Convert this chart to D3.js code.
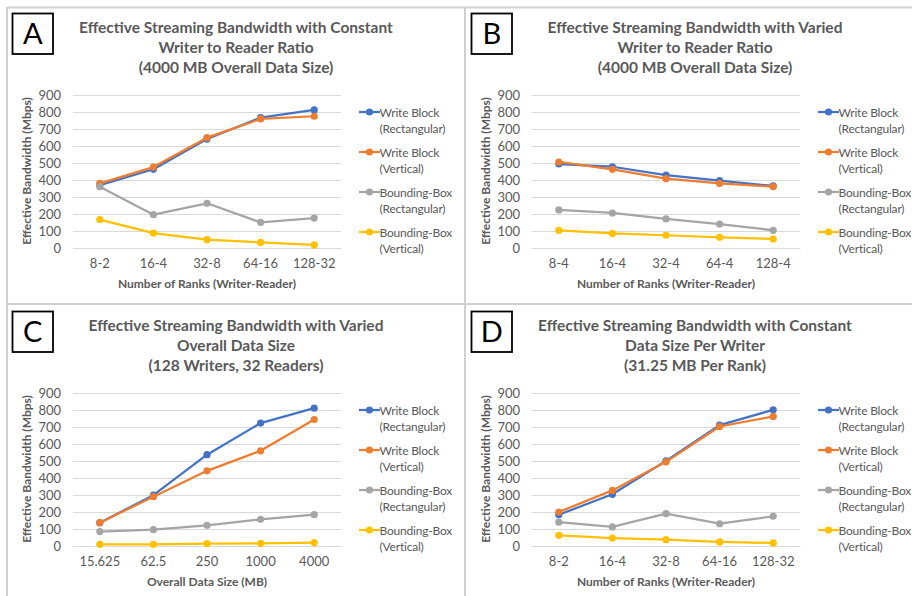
<!DOCTYPE html>
<html>
<head>
<meta charset="utf-8">
<script src="https://cdn.jsdelivr.net/npm/d3@7"></script>
<style>
  html, body { margin: 0; padding: 0; background: #fff; }
  svg { display: block; }
  text { font-family: Lato, "Open Sans", sans-serif; }
</style>
</head>
<body>
<svg id="chart" width="912" height="596"></svg>
<script>
// ---------------- DATA ----------------
const seriesNames = [
  ["Write Block", "(Rectangular)"],
  ["Write Block", "(Vertical)"],
  ["Bounding-Box", "(Rectangular)"],
  ["Bounding-Box", "(Vertical)"]
];
const seriesColors = ["#4472C4", "#ED7D31", "#A5A5A5", "#FFC000"];
const yTicks = [0, 100, 200, 300, 400, 500, 600, 700, 800, 900];

// Panel A
const categoriesA = ["8-2", "16-4", "32-8", "64-16", "128-32"];
const wbRectA = [370, 463, 641, 767, 812];
const wbVertA = [380, 476, 649, 759, 775];
const bbRectA = [361, 196, 263, 151, 176];
const bbVertA = [167, 88, 49, 33, 18];

// Panel B
const categoriesB = ["8-4", "16-4", "32-4", "64-4", "128-4"];
const wbRectB = [494, 478, 429, 396, 365];
const wbVertB = [506, 463, 408, 380, 361];
const bbRectB = [224, 206, 171, 141, 104];
const bbVertB = [104, 86, 75, 63, 53];

// Panel C
const categoriesC = ["15.625", "62.5", "250", "1000", "4000"];
const wbRectC = [137, 299, 537, 723, 811];
const wbVertC = [137, 290, 442, 560, 744];
const bbRectC = [85, 96, 122, 157, 184];
const bbVertC = [10, 10, 14, 16, 20];

// Panel D
const categoriesD = ["8-2", "16-4", "32-8", "64-16", "128-32"];
const wbRectD = [184, 304, 501, 711, 801];
const wbVertD = [200, 327, 495, 703, 762];
const bbRectD = [140, 112, 190, 131, 175];
const bbVertD = [63, 47, 37, 24, 18];

const panels = [
  { letter: "A", ox: 0, oy: 0,
    title: ["Effective Streaming Bandwidth with Constant", "Writer to Reader Ratio", "(4000 MB Overall Data Size)"],
    xTitle: "Number of Ranks (Writer-Reader)", cats: categoriesA,
    series: [wbRectA, wbVertA, bbRectA, bbVertA] },
  { letter: "B", ox: 459, oy: 0,
    title: ["Effective Streaming Bandwidth with Varied", "Writer to Reader Ratio", "(4000 MB Overall Data Size)"],
    xTitle: "Number of Ranks (Writer-Reader)", cats: categoriesB,
    series: [wbRectB, wbVertB, bbRectB, bbVertB] },
  { letter: "C", ox: 0, oy: 298,
    title: ["Effective Streaming Bandwidth with Varied", "Overall Data Size", "(128 Writers, 32 Readers)"],
    xTitle: "Overall Data Size (MB)", cats: categoriesC,
    series: [wbRectC, wbVertC, bbRectC, bbVertC] },
  { letter: "D", ox: 459, oy: 298,
    title: ["Effective Streaming Bandwidth with Constant", "Data Size Per Writer", "(31.25 MB Per Rank)"],
    xTitle: "Number of Ranks (Writer-Reader)", cats: categoriesD,
    series: [wbRectD, wbVertD, bbRectD, bbVertD] }
];

// ---------------- DRAW ----------------
const svg = d3.select("#chart");
const textColor = "#595959";
const gridColor = "#D9D9D9";
const borderColor = "#D0D0D0";

// panel borders
const borders = svg.append("g").attr("stroke", borderColor).attr("stroke-width", 2);
borders.append("line").attr("x1", 7).attr("x2", 912).attr("y1", 7.5).attr("y2", 7.5);
borders.append("line").attr("x1", 7).attr("x2", 912).attr("y1", 304).attr("y2", 304);
borders.append("line").attr("x1", 7).attr("x2", 7).attr("y1", 7).attr("y2", 596);
borders.append("line").attr("x1", 465).attr("x2", 465).attr("y1", 7).attr("y2", 596);

panels.forEach(p => {
  const g = svg.append("g").attr("transform", `translate(${p.ox},${p.oy})`);

  // letter box
  g.append("rect").attr("x", 12.5).attr("y", 13.5).attr("width", 40.5).attr("height", 40.5)
    .attr("fill", "#fff").attr("stroke", "#000").attr("stroke-width", 1.8);
  g.append("text").attr("x", 32.8).attr("y", 44).attr("text-anchor", "middle")
    .attr("font-size", 29).attr("fill", "#000").attr("font-family", "Liberation Sans, Arial, sans-serif")
    .text(p.letter);

  // title
  p.title.forEach((t, i) => {
    g.append("text").attr("x", 236).attr("y", 32.5 + i * 20).attr("text-anchor", "middle")
      .attr("font-size", 15.5).attr("font-weight", "bold").attr("fill", textColor).text(t);
  });

  const x = d3.scaleBand().domain(p.cats).range([73, 341]);
  const y = d3.scaleLinear().domain([0, 900]).range([248, 95]);

  // grid
  const yAxis = d3.axisLeft(y).tickValues(yTicks).tickSize(-(341 - 73)).tickPadding(12);
  const ga = g.append("g").attr("transform", "translate(73,0)").call(yAxis);
  ga.select(".domain").remove();
  ga.selectAll(".tick line").attr("stroke", gridColor).attr("stroke-width", 1);
  ga.selectAll(".tick text").attr("fill", textColor).attr("font-size", 13)
    .attr("font-family", "Lato, sans-serif");

  const xAxis = d3.axisBottom(x).tickSize(0).tickPadding(11);
  const gx = g.append("g").attr("transform", "translate(0,248)").call(xAxis);
  gx.select(".domain").attr("stroke", gridColor);
  gx.selectAll(".tick text").attr("fill", textColor).attr("font-size", 13)
    .attr("font-family", "Lato, sans-serif");

  // axis titles
  g.append("text").attr("transform", "translate(31,171) rotate(-90)").attr("text-anchor", "middle")
    .attr("font-size", 12).attr("font-weight", "bold").attr("fill", textColor)
    .text("Effective Bandwidth (Mbps)");
  g.append("text").attr("x", 207).attr("y", 288).attr("text-anchor", "middle")
    .attr("font-size", 12).attr("font-weight", "bold").attr("fill", textColor)
    .text(p.xTitle);

  // series
  const line = d3.line().x((d, i) => x(p.cats[i]) + x.bandwidth() / 2).y(d => y(d));
  p.series.forEach((vals, si) => {
    const sg = g.append("g");
    sg.append("path").datum(vals).attr("d", line).attr("fill", "none")
      .attr("stroke", seriesColors[si]).attr("stroke-width", 2.25).attr("stroke-linejoin", "round");
    sg.selectAll("circle").data(vals).join("circle")
      .attr("cx", (d, i) => x(p.cats[i]) + x.bandwidth() / 2)
      .attr("cy", d => y(d)).attr("r", 3.6).attr("fill", seriesColors[si]);
  });

  // legend
  seriesNames.forEach((nm, si) => {
    const ly = 112 + si * 40;
    const lg = g.append("g");
    lg.append("line").attr("x1", 359).attr("x2", 380).attr("y1", ly).attr("y2", ly)
      .attr("stroke", seriesColors[si]).attr("stroke-width", 2.25);
    lg.append("circle").attr("cx", 369.5).attr("cy", ly).attr("r", 3.6).attr("fill", seriesColors[si]);
    nm.forEach((t, k) => {
      lg.append("text").attr("x", 379.5).attr("y", ly + 4.5 + k * 16)
        .attr("font-size", 12).attr("letter-spacing", -0.2).attr("fill", textColor).text(t);
    });
  });
});
</script>
</body>
</html>
